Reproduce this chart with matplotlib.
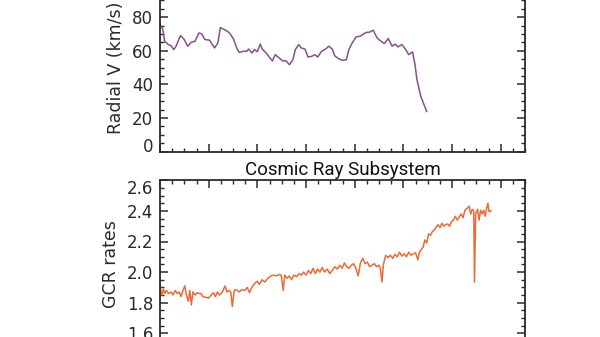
import matplotlib
matplotlib.use("Agg")
import matplotlib.pyplot as plt
from matplotlib.ticker import MultipleLocator

plt.rcParams['font.family'] = ['DejaVu Sans']

# ---- Data (x in years since start of plotted interval) ----
v_time = [0.00, 0.055, 0.094, 0.17, 0.23, 0.28, 0.33, 0.42, 0.49, 0.57, 0.64, 0.72,
          0.80, 0.86, 0.92, 1.02, 1.12, 1.19, 1.24, 1.35, 1.43, 1.51, 1.59, 1.63,
          1.71, 1.78, 1.82, 1.89, 1.94, 2.00, 2.06, 2.10, 2.18, 2.26, 2.31, 2.37,
          2.45, 2.52, 2.59, 2.66, 2.73, 2.78, 2.85, 2.90, 2.98, 3.04, 3.12, 3.18,
          3.24, 3.32, 3.40, 3.47, 3.54, 3.59, 3.67, 3.75, 3.83, 3.88, 3.95, 4.03,
          4.12, 4.18, 4.25, 4.30, 4.38, 4.46, 4.54, 4.61, 4.69, 4.77, 4.83, 4.89,
          4.97, 5.05, 5.11, 5.19, 5.24, 5.28, 5.36, 5.48]
radial_v = [75.6, 73.0, 65.7, 63.7, 63.0, 60.7, 62.7, 69.0, 67.0, 62.7, 65.0, 65.7,
            70.6, 70.0, 66.7, 66.3, 61.7, 64.7, 73.8, 72.2, 70.6, 67.0, 60.7, 59.0,
            59.7, 59.7, 61.0, 58.7, 60.7, 59.5, 64.0, 61.0, 58.7, 55.7, 54.0, 57.7,
            55.7, 54.0, 54.0, 51.7, 54.7, 60.7, 63.7, 61.7, 61.0, 56.3, 56.7, 57.7,
            56.3, 59.7, 61.0, 62.7, 61.0, 57.0, 55.3, 54.3, 54.7, 60.7, 64.7, 68.3,
            68.7, 70.0, 71.0, 71.0, 72.2, 67.7, 65.7, 64.3, 67.3, 62.7, 64.0, 62.3,
            63.7, 60.7, 57.7, 59.3, 51.7, 42.8, 32.8, 23.9]

gcr_xz = [418, 420, 423, 427, 430, 435, 440, 447, 452, 458, 463, 468, 473, 478, 483,
          487, 492, 496, 500, 504, 510, 515, 520, 525, 530, 537, 545, 552, 558, 563,
          568, 573, 578, 583, 588, 593, 598, 603, 607, 612, 618, 625, 632, 640, 646,
          652, 658, 665, 672, 678, 685, 692, 700, 708, 715, 722, 730, 735, 740, 744,
          750, 756, 762, 768, 775, 782, 788, 793, 800, 806, 812, 818, 824, 830, 836,
          842, 848, 855, 862, 868, 875, 882, 888, 894, 900, 906, 912, 918, 924, 930,
          936, 942, 948, 954, 960, 966, 972, 978, 984, 990, 994, 998, 1002, 1008, 1014,
          1020, 1026, 1032, 1038, 1044, 1050, 1056, 1062, 1068, 1074, 1080, 1086, 1092,
          1096, 1100, 1106, 1110, 1115, 1120, 1125, 1130, 1135, 1140, 1145, 1150, 1155,
          1160, 1165, 1170, 1175, 1180, 1185, 1190, 1195, 1200, 1205, 1210, 1215, 1222,
          1226, 1230, 1234, 1238, 1240, 1243, 1248, 1252, 1256, 1260, 1264, 1268, 1272,
          1275, 1278, 1283]
gcr_time = [round((x - 418) / 127.2, 3) for x in gcr_xz]
gcr_rates = [1.952, 1.88, 1.85, 1.89, 1.86, 1.88, 1.86, 1.87, 1.85, 1.88, 1.86, 1.87,
             1.84, 1.88, 1.91, 1.85, 1.81, 1.88, 1.785, 1.87, 1.85, 1.865, 1.86, 1.86,
             1.84, 1.835, 1.83, 1.85, 1.865, 1.84, 1.87, 1.85, 1.86, 1.88, 1.91, 1.87,
             1.88, 1.87, 1.775, 1.88, 1.885, 1.87, 1.885, 1.88, 1.90, 1.865, 1.90, 1.925,
             1.94, 1.92, 1.95, 1.935, 1.96, 1.975, 1.98, 1.975, 1.985, 1.98, 1.88, 1.98,
             1.96, 1.975, 1.95, 1.98, 1.97, 1.99, 1.98, 2.00, 1.98, 2.01, 1.99, 2.025,
             1.99, 2.02, 2.00, 2.03, 2.00, 2.02, 1.99, 2.01, 2.035, 2.02, 2.045, 2.025,
             2.06, 2.035, 2.025, 2.045, 2.055, 2.025, 1.975, 2.06, 2.09, 2.055, 2.065,
             2.035, 2.045, 2.055, 2.035, 2.045, 2.025, 1.935, 2.05, 2.11, 2.095, 2.11,
             2.09, 2.115, 2.10, 2.13, 2.105, 2.12, 2.10, 2.13, 2.11, 2.12, 2.125, 2.08,
             2.13, 2.145, 2.165, 2.21, 2.19, 2.25, 2.24, 2.265, 2.275, 2.295, 2.31, 2.29,
             2.32, 2.30, 2.31, 2.315, 2.30, 2.33, 2.34, 2.365, 2.34, 2.36, 2.38, 2.355,
             2.405, 2.42, 2.43, 2.38, 2.41, 2.40, 1.935, 2.38, 2.41, 2.34, 2.405, 2.38,
             2.405, 2.365, 2.42, 2.45, 2.395, 2.40]

W, H = 600, 337
fig = plt.figure(figsize=(6.0, 3.37), dpi=100)

def frac_box(left, right, top, bottom):
    return [left / W, 1 - bottom / H, (right - left) / W, (bottom - top) / H]

spine_col = '#2b2b2b'
text_col = '#2a2a2a'

def style(ax):
    for s in ax.spines.values():
        s.set_linewidth(1.3)
        s.set_color(spine_col)
    ax.tick_params(which='both', direction='in', top=True, right=True,
                   colors=spine_col, labelcolor=text_col, labelsize=12, pad=5)
    ax.tick_params(which='major', length=6, width=1.1)
    ax.tick_params(which='minor', length=3, width=1.0)
    ax.xaxis.set_major_locator(MultipleLocator(1))
    ax.xaxis.set_minor_locator(MultipleLocator(0.25))
    ax.set_xlim(0, 7.5)

# Top panel: radial velocity
ax1 = fig.add_axes(frac_box(160, 525, -16.5, 151.7))
style(ax1)
ax1.plot(v_time, radial_v, color='#8a4e8e', lw=1.1)
ax1.set_ylim(0, 100)
ax1.yaxis.set_major_locator(MultipleLocator(20))
ax1.yaxis.set_minor_locator(MultipleLocator(5))
ax1.set_yticks([0, 20, 40, 60, 80])
ax1.tick_params(axis='x', labelbottom=False)
ax1.set_ylabel('Radial V (km/s)', fontsize=12.5, color=text_col, labelpad=5)
ax1.get_yticklabels()[0].set_va('baseline')

# Bottom panel: GCR rates
ax2 = fig.add_axes(frac_box(160, 525, 180.3, 348.6))
style(ax2)
ax2.plot(gcr_time, gcr_rates, color='#ec6a35', lw=1.1)
ax2.set_ylim(1.5, 2.6)
ax2.yaxis.set_major_locator(MultipleLocator(0.2))
ax2.yaxis.set_minor_locator(MultipleLocator(0.05))
ax2.set_yticks([1.6, 1.8, 2.0, 2.2, 2.4, 2.6])
ax2.set_yticklabels(['1.6', '1.8', '2.0', '2.2', '2.4', '2.6'])
ax2.tick_params(axis='x', labelbottom=False)
ax2.set_ylabel('GCR rates', fontsize=12.5, color=text_col, labelpad=5)
ax2.get_yticklabels()[-1].set_va('top')
ax2.set_title('Cosmic Ray Subsystem', fontsize=13.5, color='#111111',
              pad=4, family=['Roboto', 'DejaVu Sans'])

fig.savefig('out.png', dpi=100)
